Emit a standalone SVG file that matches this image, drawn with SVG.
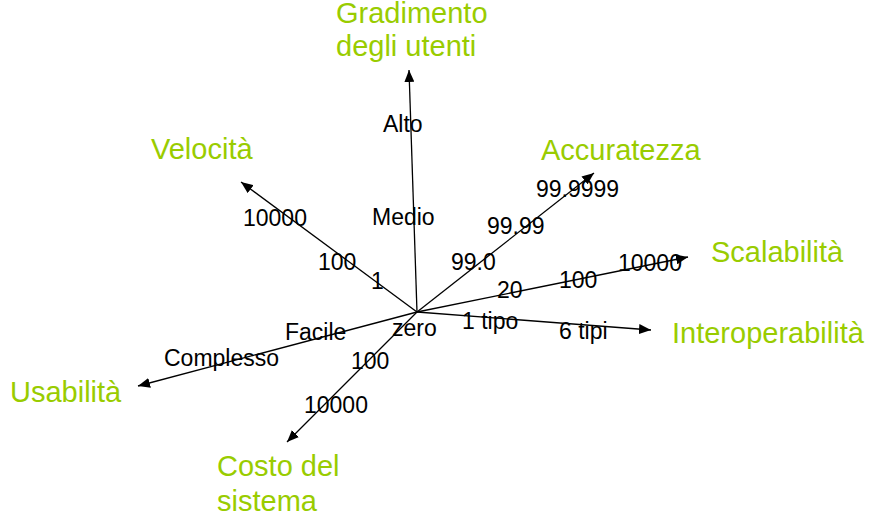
<svg xmlns="http://www.w3.org/2000/svg" width="869" height="525" viewBox="0 0 869 525">
<defs>
<marker id="ah" viewBox="0 0 12 10" refX="12" refY="5" markerWidth="12" markerHeight="10" markerUnits="userSpaceOnUse" orient="auto">
<path d="M0,0 L12,5 L0,10 Z" fill="#000"/>
</marker>
</defs>
<style>
.ax{stroke:#000;stroke-width:1.3;fill:none;marker-end:url(#ah)}
.t{font-family:"Liberation Sans",Arial,sans-serif;font-size:23px;fill:#000}
.g{font-family:"Liberation Sans",Arial,sans-serif;font-size:29px;fill:#99cc00}
</style>
<rect width="869" height="525" fill="#fff"/>
<g id="connectors">
<line class="ax" x1="417" y1="312" x2="409" y2="70"/>
<line class="ax" x1="417" y1="312" x2="241" y2="182"/>
<line class="ax" x1="417" y1="312" x2="594" y2="173"/>
<line class="ax" x1="417" y1="312" x2="688" y2="257"/>
<line class="ax" x1="417" y1="312" x2="651" y2="330"/>
<line class="ax" x1="417" y1="312" x2="138" y2="386"/>
<line class="ax" x1="417" y1="312" x2="287" y2="442"/>
</g>
<g id="gradimento">
<text class="g" x="336" y="23">Gradimento</text>
<text class="g" x="336" y="56">degli utenti</text>
<text class="t" x="383" y="132">Alto</text>
<text class="t" x="372" y="225">Medio</text>
</g>
<g id="velocita">
<text class="g" x="151" y="159">Velocità</text>
<text class="t" x="243" y="226">10000</text>
<text class="t" x="318" y="270">100</text>
<text class="t" x="371" y="289">1</text>
</g>
<g id="accuratezza">
<text class="g" x="541" y="160">Accuratezza</text>
<text class="t" x="536" y="197">99.9999</text>
<text class="t" x="487" y="234">99.99</text>
<text class="t" x="451" y="270">99.0</text>
</g>
<g id="scalabilita">
<text class="g" x="711" y="262">Scalabilità</text>
<text class="t" x="618" y="271">10000</text>
<text class="t" x="559" y="288">100</text>
<text class="t" x="497" y="298">20</text>
</g>
<g id="interoperabilita">
<text class="g" x="672" y="343">Interoperabilità</text>
<text class="t" x="462" y="329">1 tipo</text>
<text class="t" x="559" y="339">6 tipi</text>
</g>
<g id="usabilita">
<text class="g" x="10" y="402">Usabilità</text>
<text class="t" x="285" y="340">Facile</text>
<text class="t" x="164" y="366">Complesso</text>
</g>
<g id="costo">
<text class="g" x="217" y="476">Costo del</text>
<text class="g" x="217" y="511">sistema</text>
<text class="t" x="392" y="336">zero</text>
<text class="t" x="351" y="369">100</text>
<text class="t" x="304" y="413">10000</text>
</g>
</svg>
